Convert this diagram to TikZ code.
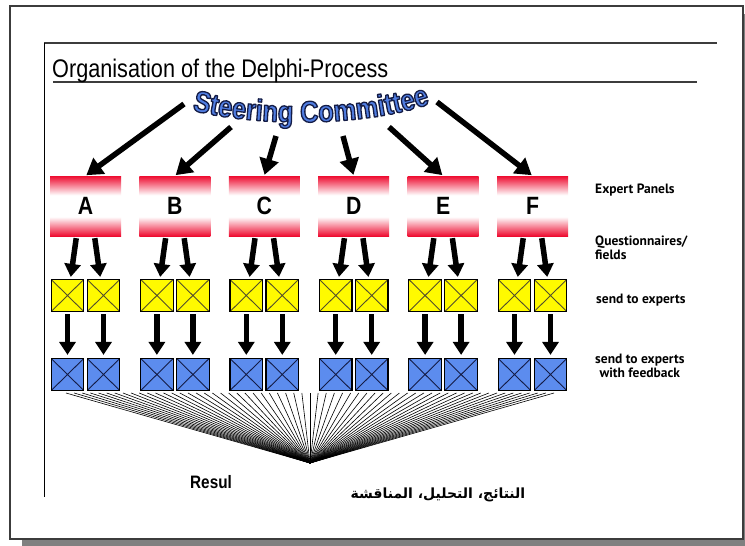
\documentclass[tikz,border=0pt]{standalone}
\usepackage{fontspec}
\usepackage{tikz}
\usetikzlibrary{arrows.meta, decorations.text, calc, positioning}
\newfontfamily\condfont{Liberation Sans}[FakeStretch=0.85]
\newfontfamily\legendfont{PT Sans}
\newfontfamily\arabicfont[Script=Arabic]{DejaVu Sans}
\TeXXeTstate=1

\definecolor{panelred}{RGB}{238,12,48}
\definecolor{questyellow}{RGB}{255,250,0}
\definecolor{feedblue}{RGB}{92,140,238}
\definecolor{steerblue}{RGB}{80,125,225}
\definecolor{steeredge}{RGB}{20,28,70}
\definecolor{framegray}{RGB}{60,60,60}
\definecolor{shadowgray}{RGB}{128,128,128}

% red - white - red fill of the panels
\pgfdeclareverticalshading{panelshade}{100bp}{color(0bp)=(panelred); color(25bp)=(panelred); color(41bp)=(white); color(59bp)=(white); color(75bp)=(panelred); color(100bp)=(panelred)}

% outlined lettering: fill in blue, stroke in dark navy
\newcommand\steerstyle{\condfont\bfseries\fontsize{30pt}{30pt}\selectfont\color{steerblue}%
	\special{pdf:literal direct 0.08 0.11 0.27 RG 1.3 w 1 j 2 Tr}}

\tikzset{
	panel/.style={rectangle, minimum width=71pt, minimum height=60pt, shade, shading=panelshade, font=\condfont\bfseries\fontsize{25pt}{25pt}\selectfont, text=black},
	envelope/.style={rectangle, minimum width=32.5pt, minimum height=32pt, draw=black, line width=1.2pt,
		path picture={\draw[envx] (path picture bounding box.north west) -- (path picture bounding box.south east)
			(path picture bounding box.north east) -- (path picture bounding box.south west);}},
	quest/.style={envelope, fill=questyellow, envx/.style={line width=0.9pt, draw=black!55!olive}},
	feedback/.style={envelope, fill=feedblue, envx/.style={line width=0.9pt, draw=steeredge}},
	bigarrow/.style={line width=5.5pt, -{Triangle[length=13pt,width=16pt]}},
	steerarrow/.style={line width=5.5pt, -{Triangle[length=16pt,width=19pt]}, shorten >=1pt},
	fanline/.style={line width=0.6pt, black},
	legend/.style={anchor=west, inner sep=0, align=left, font=\legendfont\bfseries\fontsize{13.5pt}{14.5pt}\selectfont},
	steertext/.style={decorate, decoration={text along path, text={|\steerstyle|Steering Committee}, text align=center, text color=steerblue}}
}

\begin{document}
\begin{tikzpicture}[x=1pt, y=-1pt, node distance=89.4pt]
	\useasboundingbox (0,0) rectangle (745,546);
	
	% Slide frame
	\fill[shadowgray] (22,14) rectangle (745,546);
	\filldraw[fill=white, draw=framegray, line width=1.5pt] (10,6) rectangle (743,539);
	\draw[framegray, line width=1.5pt] (44,43) -- (717,43);
	\draw[black, line width=1pt] (44,43) -- (44,497);
	\draw[framegray, line width=1.5pt] (53,82) -- (697,82);
	\node (title) [anchor=base west, inner sep=0, font=\condfont\fontsize{25.5pt}{25.5pt}\selectfont] at (52,77) {Organisation of the Delphi-Process};
	
	% Steering committee lettering
	\begin{scope}
		\path[steertext] (184,108) .. controls (250,128) and (370,128) .. (438,101);
	\end{scope}
	\coordinate (sc1) at (184,104);
	\coordinate (sc2) at (231,127);
	\coordinate (sc3) at (276,136);
	\coordinate (sc4) at (343,136);
	\coordinate (sc5) at (389,127);
	\coordinate (sc6) at (437,102);
	
	% Expert panels
	\node (A) [panel] at (85.5,206) {A};
	\node (B) [panel, right of=A] {B};
	\node (C) [panel, right of=B] {C};
	\node (D) [panel, right of=C] {D};
	\node (E) [panel, right of=D] {E};
	\node (F) [panel, right of=E] {F};
	
	% Fan into the results
	\coordinate (res) at (310,463);
	\coordinate (fanL) at (66,393);
	\coordinate (fanR) at (554,393);
	\foreach \k in {0,...,60}
		\draw[fanline] ($(fanL)!\k/60!(fanR)$) -- (res);
	
	% Questionnaires and feedback rounds
	\foreach \p in {A,B,C,D,E,F} {
		\node (\p1) [quest] at ([xshift=-18pt, yshift=-89.5pt]\p.center) {};
		\node (\p2) [quest] at ([xshift=18pt, yshift=-89.5pt]\p.center) {};
		\node (\p3) [feedback] at ([xshift=-18pt, yshift=-168.5pt]\p.center) {};
		\node (\p4) [feedback] at ([xshift=18pt, yshift=-168.5pt]\p.center) {};
		\draw [bigarrow, shorten <=2pt, shorten >=2pt] ([xshift=-9pt]\p.south) -- ([xshift=3pt]\p1.north);
		\draw [bigarrow, shorten <=2pt, shorten >=2pt] ([xshift=9pt]\p.south) -- ([xshift=-3pt]\p2.north);
		\draw [bigarrow, shorten <=2pt, shorten >=3pt] (\p1) -- (\p3);
		\draw [bigarrow, shorten <=2pt, shorten >=3pt] (\p2) -- (\p4);
	}
	
	% Arrows from the committee
	\draw [steerarrow] (sc1) -- (A.north);
	\draw [steerarrow] (sc2) -- (B.north);
	\draw [steerarrow] (sc3) -- (C.north);
	\draw [steerarrow] (sc4) -- (D.north);
	\draw [steerarrow] (sc5) -- (E.north);
	\draw [steerarrow] (sc6) -- (F.north);
	
	% Legend
	\node (lpanel) [legend] at (595,190) {Expert Panels};
	\node (lquest) [legend] at (595,248) {Questionnaires/\\fields};
	\node (lsend) [legend] at (596,300) {send to experts};
	\node (lfeed) [legend, align=center] at (595,366) {send to experts\\with feedback};
	
	% Results
	\node (result) [anchor=base west, inner sep=0, font=\condfont\bfseries\fontsize{18pt}{18pt}\selectfont] at (190,488) {Resul};
	\node (arabic) [font=\arabicfont\bfseries\fontsize{14pt}{16pt}\selectfont] at (438,495) {\beginR النتائج، التحليل، المناقشة\endR};
	
\end{tikzpicture}
\end{document}
